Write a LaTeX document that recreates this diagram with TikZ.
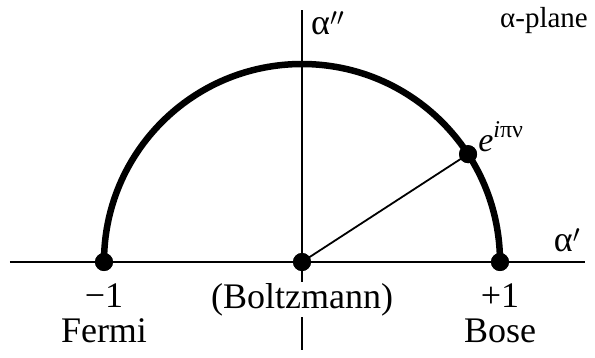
\documentclass[tikz,border=0pt]{standalone}
\usepackage{fontspec}
\setmainfont{Liberation Serif}
\usepackage{tikz}
\usetikzlibrary{positioning, calc}

\begin{document}
\begin{tikzpicture}[x=1pt, y=1pt,
    lbl/.style={inner sep=0pt, font=\fontsize{36}{40}\selectfont},
    dot/.style={circle, fill=black, inner sep=0pt, minimum size=18pt}]
    \useasboundingbox (-302,-95) rectangle (293,262);

    % Axes
    \coordinate (xl) at (-292,0);
    \coordinate (xr) at (283,0);
    \coordinate (yt) at (0,252);
    \coordinate (yb) at (0,-88);
    \draw[line width=2.6pt] (xl) -- (xr);
    \draw[line width=2.6pt] (yt) -- (yb);

    % Points on the axis
    \node[dot] (O) at (0,0) {};
    \node[dot] (m1) at (-198,0) {};
    \node[dot] (p1) at (198,0) {};
    \node[dot] (P) at (33:198) {};

    % Half circle
    \draw[line width=6.5pt] (m1.center) arc (180:0:198);
    \draw[line width=1.8pt] (O.center) -- (P.center);
    \node[dot] at (O) {};
    \node[dot] at (m1) {};
    \node[dot] at (p1) {};
    \node[dot] at (P) {};

    % Axis labels
    \node[lbl, anchor=west] (ai) at (9,239) {α$''$};
    \node[lbl, font=\fontsize{29}{34}\selectfont] (pl) at (242,241) {α-plane};
    \node[lbl] (ar) at (265,22) {α$'$};
    \node[lbl, anchor=south west, font=\fontsize{34}{38}\selectfont]
        (ep) at ($(P)+(10,2)$)
        {\textit{e}\raisebox{0.42em}{\fontsize{24}{28}\selectfont\textit{i}πν}};

    % Labels under the axis
    \node[lbl, below=12pt of m1] (lm1) {−1};
    \node[lbl, below=11pt of lm1] (fe) {Fermi};
    \node[lbl, fill=white, inner sep=1pt, below=11pt of O] (bo) {(Boltzmann)};
    \node[lbl, below=12pt of p1] (lp1) {+1};
    \node[lbl, below=11pt of lp1] (bs) {Bose};
\end{tikzpicture}
\end{document}
